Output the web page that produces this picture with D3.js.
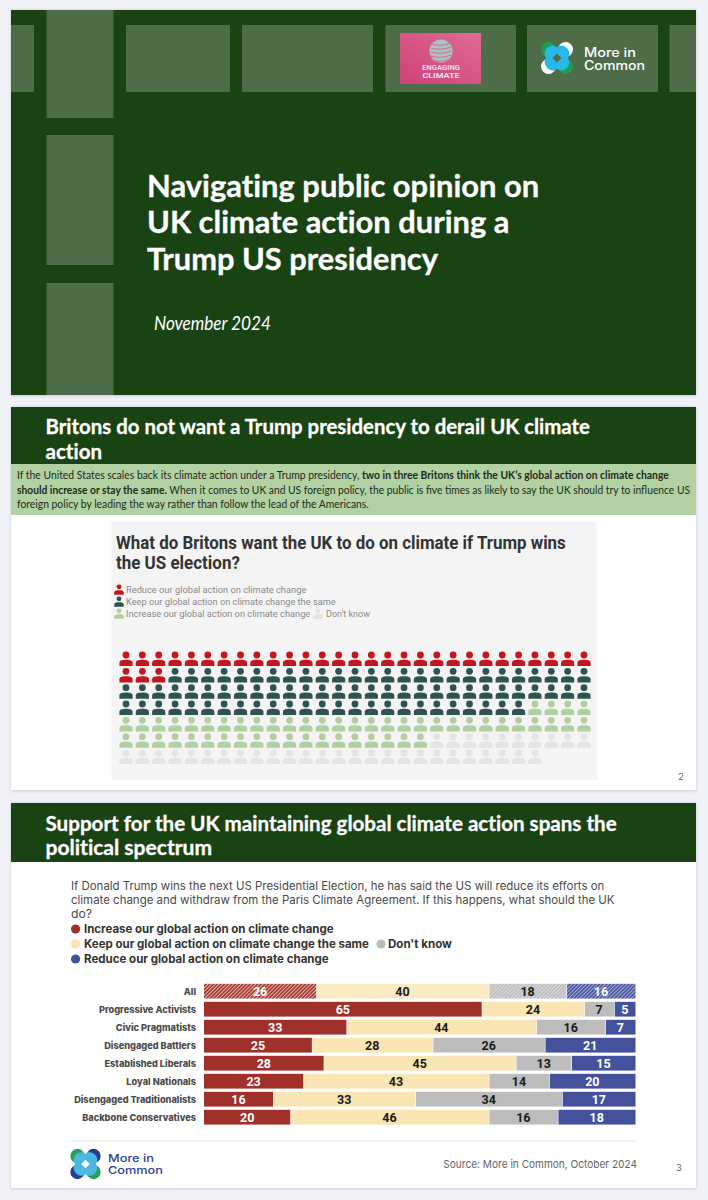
<!DOCTYPE html>
<html><head><meta charset="utf-8">
<script src="https://cdn.jsdelivr.net/npm/d3@7/dist/d3.min.js"></script>
<style>html,body{margin:0;padding:0;background:#f1f1f8;overflow:hidden}svg{display:block}</style>
</head><body><svg id="c" width="708" height="1200"></svg>
<script>
// ---- data ----
const segments = ["All","Progressive Activists","Civic Pragmatists","Disengaged Battlers","Established Liberals","Loyal Nationals","Disengaged Traditionalists","Backbone Conservatives"];
const increaseValues = [26,65,33,25,28,23,16,20];
const keepValues = [40,24,44,28,45,43,33,46];
const dontKnowValues = [18,7,16,26,13,14,34,16];
const reduceValues = [16,5,7,21,15,20,17,18];
const seriesNames = ["Increase our global action on climate change","Keep our global action on climate change the same","Don't know","Reduce our global action on climate change"];
const barColors = ["#a0302a","#fae5b5","#bdbdbd","#44519c"];
const barTextColors = ["#fff","#1a1a1a","#1a1a1a","#fff"];
const waffleOrder = ["Reduce","Keep","Increase","Don't know"];
const waffleValues = [16,40,26,18];
const waffleColors = ["#c4161c","#2c5450","#b0d0a0","#e2e5e5"];

const titleLines = ["Navigating public opinion on","UK climate action during a","Trump US presidency"];
const svg = d3.select("#c");
const defs = svg.append("defs");
const G="#1a4314", T="#4e6c48";
const rect=(p,x,y,w,h,f)=>p.append("rect").attr("x",x).attr("y",y).attr("width",w).attr("height",h).attr("fill",f);
// squeeze a text horizontally about its x so that it spans the wanted width
const fit=(t,x,len)=>{const k=len/t.node().getComputedTextLength();
  t.attr("transform",`translate(${x},0) scale(${k},1) translate(${-x},0)`);return t;};
const text=(p,x,y,s,o={})=>{const t=p.append("text").attr("x",x).attr("y",y).text(s)
  .attr("font-family",o.ff||"Lato").attr("font-size",o.fs||12).attr("font-weight",o.fw||400).attr("fill",o.fill||"#222");
  if(o.anchor)t.attr("text-anchor",o.anchor); if(o.style)t.attr("font-style",o.style); if(o.len)fit(t,x,o.len); return t;};
const heavy=t=>t.style("font-variant-ligatures","none").attr("stroke","#fff").attr("stroke-width",0.3);

// blurred shadow for slides
defs.append("filter").attr("id","sh").attr("x","-2%").attr("y","-2%").attr("width","104%").attr("height","104%")
  .append("feGaussianBlur").attr("stdDeviation",1.5);
[[10,385],[407,383],[803,385]].forEach(([y,h])=>rect(svg,11,y,685,h+1,"#c9c9d2").attr("filter","url(#sh)"));

// ---- Slide 1 ----
rect(svg,11,10,685,385,G);
[[11,25,23,67],[126,25,104,67],[242,25,131,67],[385.5,25,130.5,67],[527,25,131,67],[669.5,25,26.5,67],
 [46.5,10,67,108],[46.5,135,67,130],[46.5,283,67,112]].forEach(d=>rect(svg,d[0],d[1],d[2],d[3],T));
const pink=defs.append("linearGradient").attr("id","pink").attr("x1",0).attr("y1",1).attr("x2",1).attr("y2",0);
pink.append("stop").attr("offset",0).attr("stop-color","#cf4176");
pink.append("stop").attr("offset",1).attr("stop-color","#de6b96");
rect(svg,400,33,81,51,"url(#pink)");
const globe=svg.append("g");
globe.append("circle").attr("cx",441).attr("cy",51).attr("r",11.5).attr("fill","#a9c4c4");
[-7,-3,1,5,9].forEach(d=>globe.append("path").attr("d",`M${441-10},${51+d}q10,3 20,-1`).attr("stroke","#d76c96").attr("stroke-width",1.1).attr("fill","none"));
text(svg,441,70,"ENGAGING",{fs:7,fw:700,fill:"#f3dbe4",anchor:"middle",ff:"Roboto",len:38});
text(svg,441,78,"CLIMATE",{fs:7.6,fw:700,fill:"#f6e6ec",anchor:"middle",ff:"Roboto",len:37});

function logo(cx,cy,s,cols){
  const g=svg.append("g").attr("transform",`translate(${cx},${cy}) scale(${s})`);
  [[-1,-1,cols[0]],[1,-1,cols[1]],[-1,1,cols[1]],[1,1,cols[0]]].forEach(([a,b,c])=>
    g.append("ellipse").attr("cx",a*8.5).attr("cy",b*8.5).attr("rx",7.5).attr("ry",7.5).attr("fill",c));
  [[-1,-1],[1,-1],[-1,1],[1,1]].forEach(([a,b])=>
    g.append("ellipse").attr("cx",a*5.5).attr("cy",b*5.5).attr("rx",7.6).attr("ry",6.2)
     .attr("transform",`rotate(${a*b*-45} ${a*5.5} ${b*5.5})`).attr("fill",cols[2]));
  g.append("path").attr("d","M0,-4.5L4.5,0L0,4.5L-4.5,0Z").attr("fill",cols[3]);
}
logo(557,58,1,["#1f9d55","#ffffff","#29b8e8",T]);
text(svg,584,57,"More in",{ff:"Inter",fs:12.4,fw:500,fill:"#fff",len:52});
text(svg,584,70,"Common",{ff:"Inter",fs:12.4,fw:500,fill:"#fff",len:61});

titleLines.forEach((s,i)=>heavy(text(svg,147,[197,233.5,270][i],s,{fs:30.5,fw:700,fill:"#fff",len:[393,363,291][i]})));
text(svg,154,330,"November 2024",{fs:19,style:"italic",fill:"#fff",len:117});

// ---- Slide 2 ----
rect(svg,11,407,685,383,"#fff");
rect(svg,11,407,685,57,G);
rect(svg,11,464,685,51,"#b2d2a4");
heavy(text(svg,45.5,434,"Britons do not want a Trump presidency to derail UK climate",{fs:21,fw:700,fill:"#fff",len:545}));
heavy(text(svg,45.5,459,"action",{fs:21,fw:700,fill:"#fff",len:57}));
const rich=(y,parts,len)=>{const t=svg.append("text").attr("x",17).attr("y",y).attr("font-family","Lato").attr("font-size",11.2).attr("fill","#1d2a18");
  parts.forEach(([s,b])=>t.append("tspan").text(s).attr("font-weight",b?700:400));
  fit(t,17,len);};
rich(479,[["If the United States scales back its climate action under a Trump presidency, ",0],["two in three Britons think the UK’s global action on climate change",1]],652);
rich(494,[["should increase or stay the same.",1],[" When it comes to UK and US foreign policy, the public is five times as likely to say the UK should try to influence US",0]],673);
rich(508,[["foreign policy by leading the way rather than follow the lead of the Americans.",0]],352);

rect(svg,111.5,522,485.5,258,"#f4f4f4");
text(svg,116,549,"What do Britons want the UK to do on climate if Trump wins",{ff:"Roboto",fs:19,fw:700,fill:"#333",len:450});
text(svg,116,569,"the US election?",{ff:"Roboto",fs:19,fw:700,fill:"#333",len:124});
function person(p,x,y,c,s=1){
  const g=p.append("g").attr("transform",`translate(${x},${y}) scale(${s})`).attr("fill",c);
  g.append("circle").attr("cx",0).attr("cy",-4.4).attr("r",3.4);
  g.append("path").attr("d","M-6.6,6.7V3.4C-6.6,1.2 -3.8,0.4 0,0.4C3.8,0.4 6.6,1.2 6.6,3.4V6.7Z");
}
[[119,590,0,"Reduce our global action on climate change",126,180],[119,602,1,"Keep our global action on climate change the same",126,209.5],
 [119,614,2,"Increase our global action on climate change",126,184],[318,614,3,"Don't know",326,44]].forEach(d=>{
  person(svg,d[0],d[1],waffleColors[d[2]],0.72);
  text(svg,d[4],d[1]+3.5,d[3],{ff:"Roboto",fs:9.9,fill:"#8a8a8a",len:d[5]});
});
// waffle: each person = half a percent, filled row by row
const nCols=29;
const people=waffleValues.flatMap((v,i)=>d3.range(v*2).map(()=>i));
const wx=d3.scalePoint().domain(d3.range(nCols)).range([126,584]);
const wy=d3.scalePoint().domain(d3.range(7)).range([659.4,757.4]);
svg.append("g").selectAll("g").data(people).join("g").each(function(c,i){
  person(d3.select(this),wx(i%nCols),wy(Math.floor(i/nCols)),waffleColors[c]);
});
text(svg,678,780,"2",{ff:"Inter",fs:9.5,fill:"#666"});

// ---- Slide 3 ----
rect(svg,11,803,685,385,"#fff");
rect(svg,11,803,685,59,G);
heavy(text(svg,45.5,831,"Support for the UK maintaining global climate action spans the",{fs:21,fw:700,fill:"#fff",len:572}));
heavy(text(svg,45.5,855,"political spectrum",{fs:21,fw:700,fill:"#fff",len:167}));
[["If Donald Trump wins the next US Presidential Election, he has said the US will reduce its efforts on",890,534],
 ["climate change and withdraw from the Paris Climate Agreement. If this happens, what should the UK",904,544],
 ["do?",918,21]].forEach(d=>text(svg,71,d[1],d[0],{ff:"Inter",fs:11.4,fill:"#4a4a4a",len:d[2]}));
[[75.6,84,933,0,250],[75.6,84,948,1,285],[381,388,948,2,64],[75.6,84,963,3,245]].forEach(d=>{
  svg.append("circle").attr("cx",d[0]).attr("cy",d[2]-4).attr("r",4.6).attr("fill",barColors[d[3]]);
  text(svg,d[1],d[2],seriesNames[d[3]],{ff:"Inter",fs:11.5,fw:700,fill:"#333",len:d[4]});
});
// hatch patterns for the "All" row
barColors.forEach((c,i)=>{
  const p=defs.append("pattern").attr("id","h"+i).attr("patternUnits","userSpaceOnUse").attr("width",2.6).attr("height",2.6).attr("patternTransform","rotate(-45)");
  p.append("rect").attr("width",2.6).attr("height",2.6).attr("fill",c);
  p.append("rect").attr("width",2.6).attr("height",1).attr("fill",i==1?"#fdf1d6":(i==2?"#dcdcdc":(i==0?"#e7bdb5":"#a9b0d6")));
});
const allSeries=[increaseValues,keepValues,dontKnowValues,reduceValues];
const x=d3.scaleLinear().domain([0,1]).range([204,635.5]);
const y=d3.scaleBand().domain(segments).range([982.2,1126.2]).paddingInner(0.18).paddingOuter(0.09);
segments.forEach((seg,r)=>{
  const vals=allSeries.map(s=>s[r]), tot=d3.sum(vals);
  const stack=d3.cumsum(vals);
  text(svg,196,y(seg)+y.bandwidth()/2+3.3,seg,{ff:"Inter",fs:9.2,fw:800,fill:"#4a4a4a",anchor:"end"});
  vals.forEach((v,i)=>{
    const a=x((stack[i]-v)/tot),b=x(stack[i]/tot);
    rect(svg,a+(i?0.6:0),y(seg),b-a-(i?0.6:0),y.bandwidth(),r===0?`url(#h${i})`:barColors[i]);
    text(svg,(a+b)/2,y(seg)+y.bandwidth()/2+4.4,v,{ff:"Roboto",fs:12.5,fw:700,fill:barTextColors[i],anchor:"middle"});
  });
});
rect(svg,71,1140.5,566,1.2,"#ececec");
logo(85.5,1164,0.95,["#2a9d5c","#23408f","#4cb8e0","#fff"]);
text(svg,108,1162,"More in",{ff:"Inter",fs:11,fw:500,fill:"#2c3f8f",len:46});
text(svg,108,1174,"Common",{ff:"Inter",fs:11,fw:500,fill:"#2c3f8f",len:55});
text(svg,637,1168,"Source: More in Common, October 2024",{ff:"Inter",fs:11,fill:"#666",anchor:"end",len:194});
text(svg,676,1171,"3",{ff:"Inter",fs:9.5,fill:"#666"});
</script></body></html>
